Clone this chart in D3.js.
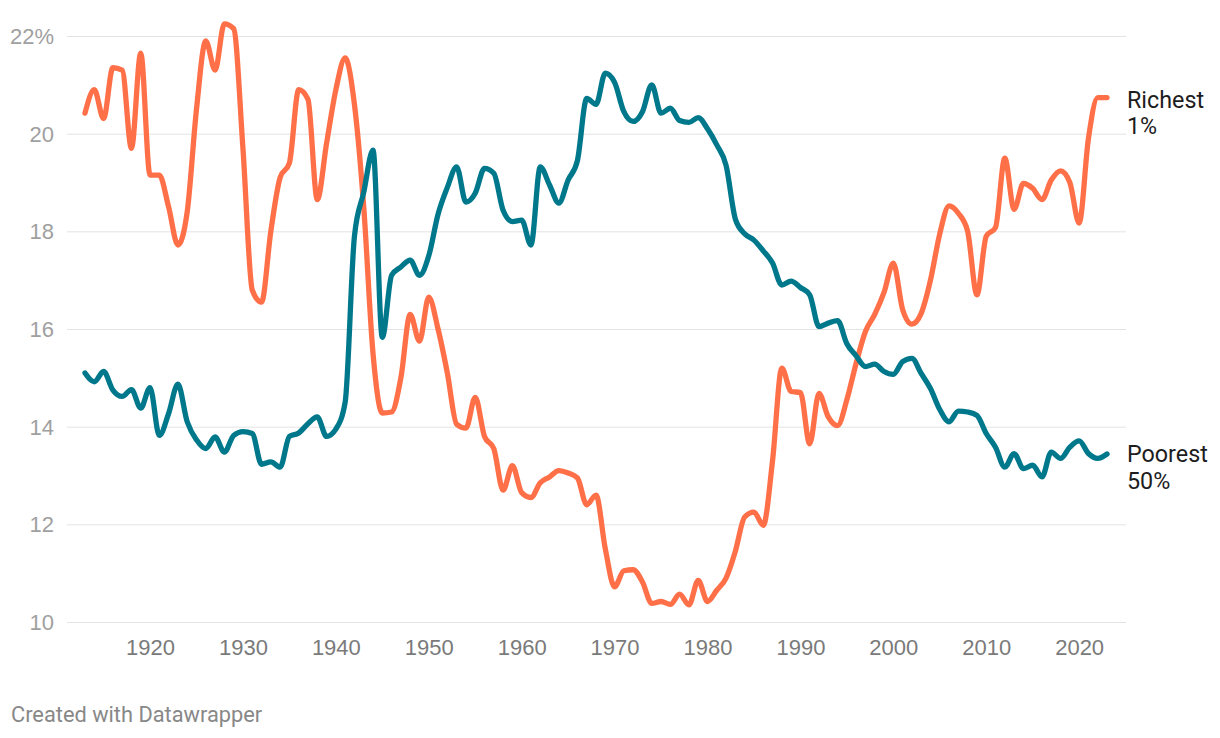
<!DOCTYPE html>
<html>
<head>
<meta charset="utf-8">
<script src="https://cdn.jsdelivr.net/npm/d3@7"></script>
<style>
  html, body { margin: 0; padding: 0; background: #ffffff; }
  svg { display: block; font-family: Roboto, "Noto Sans", sans-serif; }
</style>
</head>
<body>
<svg id="chart" width="1220" height="738"></svg>
<script>
// ---- data ----
const years = d3.range(1913, 2024);

const richest1 = [
  20.42, 20.9, 20.31, 21.35, 21.3, 19.7, 21.65, 19.15, 19.15, 18.5,
  17.72, 18.4, 20.5, 21.9, 21.3, 22.25, 22.15, 19.7, 16.8, 16.55,
  18.0, 19.1, 19.4, 20.9, 20.7, 18.65, 19.8, 20.9, 21.55, 20.6,
  18.5, 15.5, 14.28, 14.3, 15.0, 16.3, 15.75, 16.65, 16.0, 15.1,
  14.05, 13.97, 14.6, 13.8, 13.55, 12.7, 13.2, 12.65, 12.55, 12.85,
  12.97, 13.1, 13.05, 12.95, 12.4, 12.6, 11.5, 10.72, 11.05, 11.07,
  10.82, 10.38, 10.42, 10.36, 10.57, 10.35, 10.85, 10.42, 10.65, 10.9,
  11.45, 12.15, 12.25, 11.98, 13.3, 15.2, 14.72, 14.7, 13.65, 14.68,
  14.2, 14.02, 14.55, 15.3, 15.95, 16.3, 16.75, 17.35, 16.4, 16.1,
  16.32, 17.0, 17.95, 18.52, 18.37, 18.0, 16.7, 17.9, 18.08, 19.5,
  18.45, 18.98, 18.88, 18.65, 19.05, 19.24, 19.0, 18.17, 19.9, 20.74,
  20.74
];

const poorest50 = [
  15.1, 14.92, 15.13, 14.75, 14.62, 14.76, 14.38, 14.8, 13.82, 14.27,
  14.87, 14.1, 13.73, 13.55, 13.79, 13.48, 13.82, 13.9, 13.86, 13.23,
  13.28, 13.17, 13.8, 13.87, 14.06, 14.2, 13.8, 13.95, 14.5, 17.9,
  18.8, 19.66, 15.83, 17.1, 17.27, 17.41, 17.1, 17.5, 18.35, 18.9,
  19.32, 18.6, 18.78, 19.29, 19.19, 18.43, 18.2, 18.23, 17.72, 19.32,
  18.95, 18.58, 19.05, 19.45, 20.72, 20.6, 21.24, 21.05, 20.45, 20.25,
  20.45, 21.0, 20.42, 20.52, 20.27, 20.23, 20.33, 20.1, 19.77, 19.35,
  18.25, 17.95, 17.82, 17.6, 17.35, 16.9, 16.98, 16.85, 16.7, 16.05,
  16.12, 16.17, 15.7, 15.45, 15.23, 15.28, 15.13, 15.07, 15.33, 15.4,
  15.09, 14.78, 14.35, 14.1, 14.32, 14.3, 14.23, 13.86, 13.58, 13.17,
  13.45, 13.14, 13.21, 12.97, 13.48, 13.35, 13.58, 13.71, 13.45, 13.35,
  13.44
];

const seriesLabels = [["Richest", "1%"], ["Poorest", "50%"]];
const seriesColors = ["#ff7049", "#00788c"];

const yTicks = [10, 12, 14, 16, 18, 20, 22];
const yTickLabels = ["10", "12", "14", "16", "18", "20", "22%"];
const xTicks = [1920, 1930, 1940, 1950, 1960, 1970, 1980, 1990, 2000, 2010, 2020];
const footer = "Created with Datawrapper";

// ---- chart ----
const svg = d3.select("#chart");
const x = d3.scaleLinear().domain([1913, 2023]).range([85, 1107]);
const y = d3.scaleLinear().domain([10, 22]).range([622, 36]);

const gridLeft = 67, gridRight = 1126;

// gridlines + y labels
const yAxis = d3.axisLeft(y)
  .tickValues(yTicks)
  .tickSize(-(gridRight - gridLeft))
  .tickPadding(13)
  .tickFormat((d, i) => yTickLabels[i]);

const gy = svg.append("g")
  .attr("transform", `translate(${gridLeft},0)`)
  .call(yAxis);
gy.select(".domain").remove();
gy.selectAll(".tick line").attr("stroke", "#e3e3e3").attr("stroke-width", 1);
gy.selectAll(".tick text")
  .attr("fill", "#a0a0a0")
  .attr("font-size", "22px")
  .attr("dy", "0.34em");

// x axis labels
const xAxis = d3.axisBottom(x)
  .tickValues(xTicks)
  .tickSize(0)
  .tickPadding(0)
  .tickFormat(d3.format("d"));
const gx = svg.append("g")
  .attr("transform", `translate(0,655)`)
  .call(xAxis);
gx.select(".domain").remove();
gx.selectAll(".tick text")
  .attr("fill", "#7a7a7a")
  .attr("font-size", "22px")
  .attr("dy", "0");

// lines
const line = d3.line()
  .x((d, i) => x(years[i]))
  .y(d => y(d))
  .curve(d3.curveMonotoneX);

const allSeries = [richest1, poorest50];
allSeries.forEach((vals, k) => {
  svg.append("path")
    .datum(vals)
    .attr("fill", "none")
    .attr("stroke", seriesColors[k])
    .attr("stroke-width", 5.3)
    .attr("stroke-linejoin", "round")
    .attr("stroke-linecap", "round")
    .attr("d", line);
});

// line labels
const labelOffsets = [10, 8];
allSeries.forEach((vals, k) => {
  const last = vals[vals.length - 1];
  const t = svg.append("text")
    .attr("x", 1127)
    .attr("y", y(last) + labelOffsets[k])
    .attr("fill", "#1d1d1d")
    .attr("font-size", "23.3px");
  seriesLabels[k].forEach((s, j) => {
    t.append("tspan")
      .attr("x", 1127)
      .attr("dy", j === 0 ? 0 : 26.5)
      .text(s);
  });
});

// footer
svg.append("text")
  .attr("x", 11)
  .attr("y", 722)
  .attr("fill", "#888888")
  .attr("font-size", "21.8px")
  .text(footer);
</script>
</body>
</html>
